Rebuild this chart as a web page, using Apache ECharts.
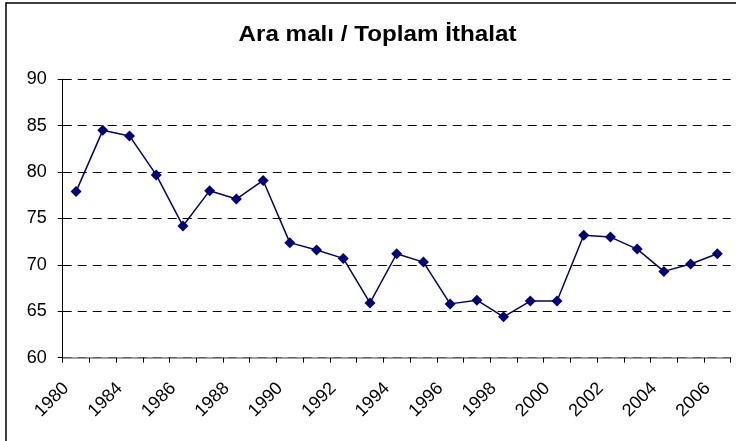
<!DOCTYPE html>
<html>
<head>
<meta charset="utf-8">
<script src="https://cdn.jsdelivr.net/npm/echarts@6/dist/echarts.min.js"></script>
<style>
  html, body { margin: 0; padding: 0; background: #fff; }
  #chart { width: 736px; height: 441px; }
</style>
</head>
<body>
<div id="chart"></div>
<script>
// years on the category axis (1981-1982 not in the series)
const years = ['1980', '1983', '1984', '1985', '1986', '1987', '1988', '1989', '1990',
  '1991', '1992', '1993', '1994', '1995', '1996', '1997', '1998', '1999', '2000',
  '2001', '2002', '2003', '2004', '2005', '2006'];
// intermediate goods share of total imports, %
const shares = [77.9, 84.5, 83.9, 79.7, 74.2, 78.0, 77.1, 79.1, 72.4,
  71.6, 70.7, 65.9, 71.2, 70.3, 65.8, 66.2, 64.4, 66.1, 66.1,
  73.2, 73.0, 71.7, 69.3, 70.1, 71.2];
const yTicks = { min: 60, max: 90, step: 5 };
const titleText = 'Ara malı / Toplam İthalat';

const chart = echarts.init(document.getElementById('chart'));
const font = 'Liberation Sans, Arial, sans-serif';

chart.setOption({
  animation: false,
  backgroundColor: '#fff',
  graphic: [{
    type: 'rect',
    shape: { x: 6, y: 3, width: 760, height: 460 },
    style: { fill: 'none', stroke: '#000', lineWidth: 1.5 },
    silent: true
  }, {
    // chart title, slightly wide like the original
    type: 'text',
    x: 377.5,
    y: 46,
    scaleX: 1.1,
    style: {
      text: titleText,
      font: 'bold 22px ' + font,
      fill: '#000',
      textAlign: 'center',
      textVerticalAlign: 'bottom'
    },
    silent: true
  }],
  grid: { left: 62.7, right: 5.3, top: 79.3, bottom: 83.3 },
  xAxis: {
    type: 'category',
    data: years,
    boundaryGap: true,
    axisLine: { lineStyle: { color: '#808080', width: 1.5 } },
    axisTick: { show: true, length: 5, interval: 0, lineStyle: { color: '#000' } },
    axisLabel: {
      interval: 1,
      rotate: 45,
      margin: 18,
      padding: [0, 14, 0, 0],
      fontFamily: font,
      fontSize: 18,
      color: '#000'
    }
  },
  yAxis: {
    type: 'value',
    min: yTicks.min,
    max: yTicks.max,
    interval: yTicks.step,
    axisLine: { show: true, lineStyle: { color: '#000', width: 1 } },
    axisTick: { show: true, length: 5, lineStyle: { color: '#000' } },
    axisLabel: { margin: 16, fontFamily: font, fontSize: 18, color: '#000' },
    splitLine: { show: true, lineStyle: { color: '#000', type: [9, 6], width: 1 } }
  },
  series: [{
    type: 'line',
    data: shares,
    symbol: 'diamond',
    symbolSize: 11,
    itemStyle: { color: '#000080' },
    lineStyle: { color: '#000080', width: 1.5 }
  }]
});
</script>
</body>
</html>
